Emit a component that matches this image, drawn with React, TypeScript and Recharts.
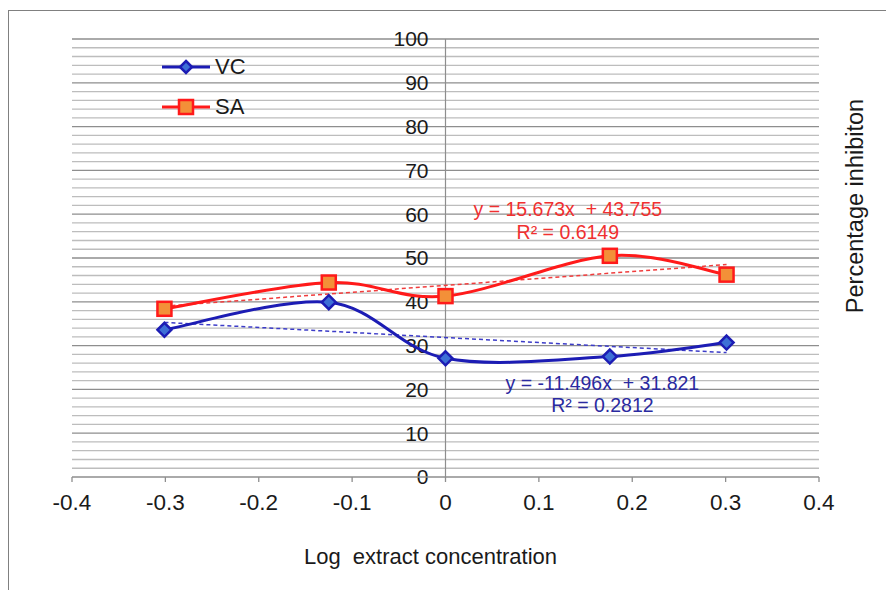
import React from "react";
import {
  LineChart,
  Line,
  XAxis,
  YAxis,
  ReferenceLine,
  ReferenceDot,
  Legend,
} from "recharts";

// log extract concentration (x) and % inhibition per series
const logConc = [-0.301, -0.125, 0, 0.176, 0.301];
const vcValues = [33.6, 39.9, 27.1, 27.5, 30.7];
const saValues = [38.4, 44.4, 41.3, 50.5, 46.2];

// linear trend end points
const trendX = [-0.301, 0.301];
const vcTrend = [35.3, 28.4];
const saTrend = [39.0, 48.5];

const xTicks = [-0.4, -0.3, -0.2, -0.1, 0, 0.1, 0.2, 0.3, 0.4];
const yMajor = [0, 10, 20, 30, 40, 50, 60, 70, 80, 90, 100];
const yMinor = [2, 4, 6, 8, 12, 14, 16, 18, 22, 24, 26, 28, 32, 34, 36, 38, 42, 44, 46, 48,
  52, 54, 56, 58, 62, 64, 66, 68, 72, 74, 76, 78, 82, 84, 86, 88, 92, 94, 96, 98];

const rows = logConc.map((x, i) => ({ x, vc: vcValues[i], sa: saValues[i] }));
const trendRows = trendX.map((x, i) => ({ x, vcTrend: vcTrend[i], saTrend: saTrend[i] }));

const VC_COLOR = "#1c1cb4";
const SA_COLOR = "#ff1a1a";
const FONT = "'Liberation Sans', Arial, sans-serif";

// Excel-like smoothed line (Catmull-Rom through the points)
const excelSmooth = (context: any) => {
  let pts: [number, number][] = [];
  return {
    areaStart() {},
    areaEnd() {},
    lineStart() {
      pts = [];
    },
    point(x: number, y: number) {
      pts.push([x, y]);
    },
    lineEnd() {
      if (!pts.length) return;
      context.moveTo(pts[0][0], pts[0][1]);
      for (let i = 0; i < pts.length - 1; i++) {
        const p0 = pts[i - 1] || pts[i];
        const p1 = pts[i];
        const p2 = pts[i + 1];
        const p3 = pts[i + 2] || p2;
        context.bezierCurveTo(
          p1[0] + (p2[0] - p0[0]) / 6,
          p1[1] + (p2[1] - p0[1]) / 6,
          p2[0] - (p3[0] - p1[0]) / 6,
          p2[1] - (p3[1] - p1[1]) / 6,
          p2[0],
          p2[1]
        );
      }
    },
  };
};

const Diamond = ({ cx, cy, s = 7 }: any) => (
  <path
    d={`M${cx},${cy - s}L${cx + s},${cy}L${cx},${cy + s}L${cx - s},${cy}Z`}
    fill="#3d6fd6"
    stroke={VC_COLOR}
    strokeWidth={2.5}
  />
);

const Square = ({ cx, cy, s = 7 }: any) => (
  <rect x={cx - s} y={cy - s} width={2 * s} height={2 * s} fill="#f39038" stroke={SA_COLOR} strokeWidth={2.5} />
);

const yTickLabel = (v: number) => (p: any) => {
  const vb = p.viewBox;
  return (
    <text x={vb.x + vb.width / 2 - 17} y={vb.y} dy="0.35em" textAnchor="end" fontSize={21} fill="#1a1a1a" fontFamily={FONT}>
      {v}
    </text>
  );
};

const LegendBox = () => (
  <div style={{ fontFamily: FONT, fontSize: 22, color: "#1a1a1a" }}>
    {[
      { name: "VC", color: VC_COLOR, Mark: Diamond },
      { name: "SA", color: SA_COLOR, Mark: Square },
    ].map(({ name, color, Mark }) => (
      <div key={name} style={{ display: "flex", alignItems: "center", height: 40 }}>
        <svg width={48} height={20}>
          <line x1={0} y1={10} x2={48} y2={10} stroke={color} strokeWidth={3} />
          <Mark cx={24} cy={10} s={name === "VC" ? 6 : 7} />
        </svg>
        <span style={{ marginLeft: 5 }}>{name}</span>
      </div>
    ))}
  </div>
);

export default function App() {
  return (
    <div style={{ position: "relative", width: 886, height: 582, overflow: "hidden", fontFamily: FONT }}>
      <div
        style={{
          position: "absolute",
          left: 0,
          top: 2,
          width: 900,
          height: 600,
          borderLeft: "1.5px solid #808080",
          borderTop: "1.5px solid #808080",
        }}
      />
      <LineChart width={886} height={582} data={rows} margin={{ top: 31, right: 0, left: 64, bottom: 83 }}>
        {yMinor.map((v) => (
          <ReferenceLine key={"mn" + v} y={v} stroke="#bdbdbd" strokeWidth={1.3} />
        ))}
        {yMajor.map((v) => (
          <ReferenceLine key={"mj" + v} y={v} stroke={v === 0 ? "none" : "#8e8e8e"} strokeWidth={1.3} label={yTickLabel(v)} />
        ))}
        <ReferenceLine x={0} stroke="#8e8e8e" strokeWidth={1.2} />
        <XAxis
          type="number"
          dataKey="x"
          domain={[-0.4, 0.4]}
          ticks={xTicks}
          interval={0}
          height={30}
          tickSize={5}
          tickMargin={12}
          axisLine={{ stroke: "#8e8e8e", strokeWidth: 1.3 }}
          tickLine={{ stroke: "#8e8e8e", strokeWidth: 1.3 }}
          tick={{ fontSize: 22.5, fill: "#1a1a1a", fontFamily: FONT }}
          label={(p: any) => {
            const vb = p.viewBox;
            return (
              <text x={vb.x + vb.width / 2 - 15} y={548} dy="0.35em" textAnchor="middle" fontSize={22} fill="#1a1a1a" fontFamily={FONT}>
                {"Log\u00a0 extract concentration"}
              </text>
            );
          }}
        />
        <YAxis
          orientation="right"
          domain={[0, 100]}
          ticks={yMajor}
          tick={false}
          axisLine={false}
          tickLine={false}
          width={75}
          label={(p: any) => {
            const vb = p.viewBox;
            const cx = vb.x + 36;
            const cy = vb.y + vb.height / 2 - 52;
            return (
              <text x={cx} y={cy} dy="0.35em" textAnchor="middle" fontSize={23.5} fill="#1a1a1a" fontFamily={FONT} transform={`rotate(-90 ${cx} ${cy})`}>
                Percentage inhibiton
              </text>
            );
          }}
        />
        <Legend
          layout="vertical"
          align="center"
          verticalAlign="middle"
          content={() => <LegendBox />}
          wrapperStyle={{ left: 154, top: 39, width: 120 }}
        />
        <Line
          data={trendRows}
          dataKey="saTrend"
          type="linear"
          stroke="#f03c3c"
          strokeWidth={1.5}
          strokeDasharray="4 3"
          dot={false}
          legendType="none"
          isAnimationActive={false}
        />
        <Line
          data={trendRows}
          dataKey="vcTrend"
          type="linear"
          stroke="#3c3cc8"
          strokeWidth={1.5}
          strokeDasharray="4 3"
          dot={false}
          legendType="none"
          isAnimationActive={false}
        />
        <Line
          dataKey="sa"
          name="SA"
          type={excelSmooth as any}
          stroke={SA_COLOR}
          strokeWidth={3}
          dot={(p: any) => <Square key={"sa" + p.index} cx={p.cx} cy={p.cy} />}
          isAnimationActive={false}
        />
        <Line
          dataKey="vc"
          name="VC"
          type={excelSmooth as any}
          stroke={VC_COLOR}
          strokeWidth={3}
          dot={(p: any) => <Diamond key={"vc" + p.index} cx={p.cx} cy={p.cy} />}
          isAnimationActive={false}
        />
        <ReferenceDot
          x={0.131}
          y={61.2}
          r={1}
          fill="none"
          stroke="none"
          label={{ value: "y = 15.673x\u00a0 + 43.755", position: "center", fill: "#f03030", fontSize: 19.5, fontFamily: FONT }}
        />
        <ReferenceDot
          x={0.131}
          y={55.9}
          r={1}
          fill="none"
          stroke="none"
          label={{ value: "R² = 0.6149", position: "center", fill: "#f03030", fontSize: 19.5, fontFamily: FONT }}
        />
        <ReferenceDot
          x={0.168}
          y={21.5}
          r={1}
          fill="none"
          stroke="none"
          label={{ value: "y = -11.496x\u00a0 + 31.821", position: "center", fill: "#2a2aa0", fontSize: 19.5, fontFamily: FONT }}
        />
        <ReferenceDot
          x={0.168}
          y={16.4}
          r={1}
          fill="none"
          stroke="none"
          label={{ value: "R² = 0.2812", position: "center", fill: "#2a2aa0", fontSize: 19.5, fontFamily: FONT }}
        />
      </LineChart>
    </div>
  );
}
